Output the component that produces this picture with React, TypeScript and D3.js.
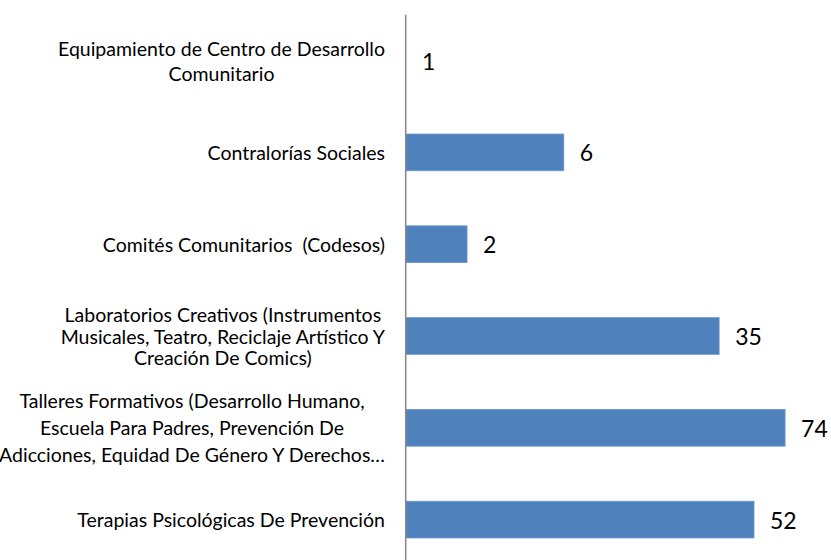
import React, { useEffect, useRef } from "react";
import * as d3 from "d3";

const categories: string[] = [
  "Equipamiento de Centro de Desarrollo\nComunitario",
  "Contralorías Sociales",
  "Comités Comunitarios  (Codesos)",
  "Laboratorios Creativos (Instrumentos\nMusicales, Teatro, Reciclaje Artístico Y\nCreación De Comics)",
  "Talleres Formativos (Desarrollo Humano,\nEscuela Para Padres, Prevención De\nAdicciones, Equidad De Género Y Derechos…",
  "Terapias Psicológicas De Prevención",
];
const values: number[] = [1, 6, 2, 35, 74, 52];
const axisDomain: [number, number] = [1, 100];

// style
const W = 831;
const H = 560;
const lineGaps = [25, 21, 21, 21.5, 27, 21];
const FONT = "Lato, 'Open Sans', sans-serif";

export default function App() {
  const ref = useRef<SVGSVGElement>(null);
  useEffect(() => {
    const svg = d3.select(ref.current);
    svg.selectAll("*").remove();
    const x = d3.scaleLog().domain(axisDomain).range([406, 811.6]);
    const y = d3
      .scaleBand<string>()
      .domain(categories)
      .range([14.7, 14.7 + 6 * 91.8])
      .paddingInner(0.6)
      .paddingOuter(0.3);

    svg
      .selectAll("rect.bar")
      .data(categories)
      .enter()
      .append("rect")
      .attr("class", "bar")
      .attr("x", x(1))
      .attr("y", (d) => y(d)!)
      .attr("width", (d, i) => Math.max(0, x(values[i]) - x(1)))
      .attr("height", y.bandwidth())
      .attr("fill", "#4F81BD")
      .attr("stroke", "#6A96CC")
      .attr("stroke-width", (d, i) => (values[i] > 1 ? 0.8 : 0));

    svg
      .append("line")
      .attr("x1", 405.7)
      .attr("x2", 405.7)
      .attr("y1", 14.7)
      .attr("y2", H)
      .attr("stroke", "#868686")
      .attr("stroke-width", 1.5);

    svg
      .selectAll("text.val")
      .data(categories)
      .enter()
      .append("text")
      .attr("class", "val")
      .attr("x", (d, i) => x(values[i]) + 16)
      .attr("y", (d) => y(d)! + y.bandwidth() / 2)
      .attr("dominant-baseline", "central")
      .attr("font-family", FONT)
      .attr("font-size", 23)
      .attr("fill", "#000")
      .text((d, i) => String(values[i]));

    const rightEdge = 385;
    categories.forEach((cat, i) => {
      const lines = cat.split("\n");
      const cy = y(cat)! + y.bandwidth() / 2;
      const gap = lineGaps[i];
      const g = svg.append("g");
      const texts = lines.map((ln, j) =>
        g
          .append("text")
          .attr("y", cy + (j - (lines.length - 1) / 2) * gap)
          .attr("dominant-baseline", "central")
          .attr("text-anchor", "middle")
          .attr("font-family", FONT)
          .attr("font-size", 19.5)
          .attr("fill", "#000")
          .style("white-space", "pre")
          .text(ln)
      );
      const maxW = d3.max(texts, (t) => (t.node() as SVGTextElement).getComputedTextLength()) || 0;
      texts.forEach((t) => t.attr("x", rightEdge - maxW / 2));
    });
  }, []);
  return (
    <svg
      ref={ref}
      width={W}
      height={H}
      style={{ position: "absolute", left: 0, top: 0, background: "#fff" }}
    />
  );
}
